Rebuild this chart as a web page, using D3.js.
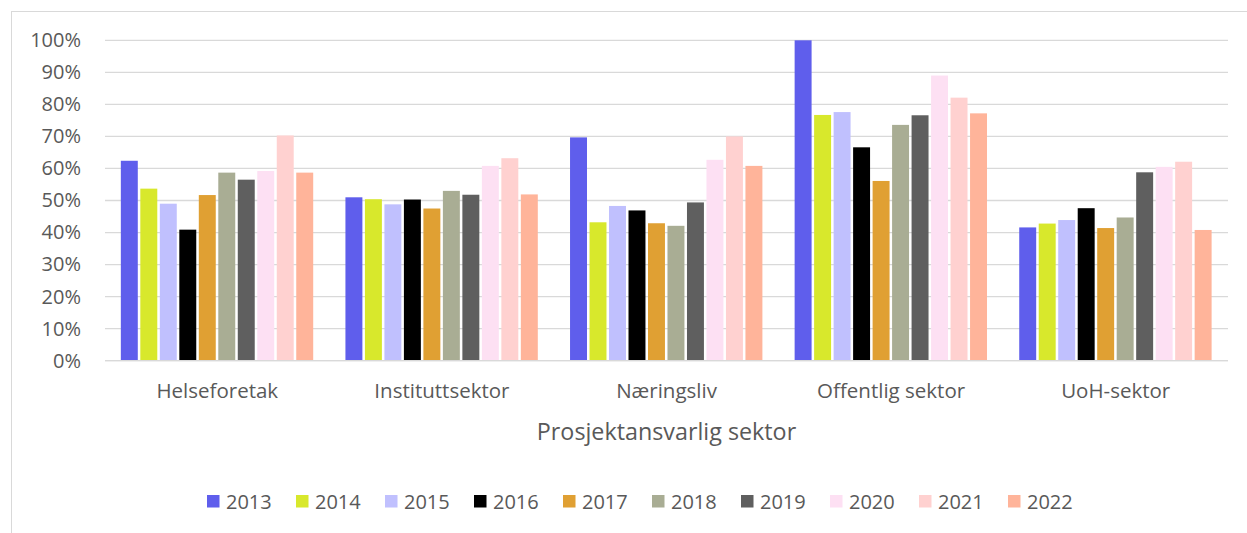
<!DOCTYPE html>
<html>
<head>
<meta charset="utf-8">
<script src="https://cdn.jsdelivr.net/npm/d3@7"></script>
<style>
  html, body { margin: 0; padding: 0; background: #fff; }
  svg { display: block; font-family: "Open Sans", sans-serif; }
</style>
</head>
<body>
<svg id="chart" width="1247" height="533"></svg>
<script>
const categories = ["Helseforetak", "Instituttsektor", "Næringsliv", "Offentlig sektor", "UoH-sektor"];
const years = ["2013", "2014", "2015", "2016", "2017", "2018", "2019", "2020", "2021", "2022"];
const colors = ["#5f5eec", "#d8e82c", "#c0c0fe", "#000000", "#e0a033", "#a9ad94", "#5f5f5f", "#fde0f3", "#ffd1d0", "#ffb49a"];
const v2013 = [0.624, 0.510, 0.697, 1.000, 0.416];
const v2014 = [0.537, 0.504, 0.432, 0.767, 0.428];
const v2015 = [0.490, 0.488, 0.483, 0.776, 0.439];
const v2016 = [0.409, 0.503, 0.469, 0.666, 0.476];
const v2017 = [0.517, 0.475, 0.429, 0.561, 0.414];
const v2018 = [0.587, 0.530, 0.421, 0.736, 0.447];
const v2019 = [0.565, 0.518, 0.494, 0.766, 0.588];
const v2020 = [0.592, 0.608, 0.627, 0.890, 0.605];
const v2021 = [0.703, 0.632, 0.700, 0.821, 0.621];
const v2022 = [0.587, 0.519, 0.608, 0.772, 0.408];
const series = [v2013, v2014, v2015, v2016, v2017, v2018, v2019, v2020, v2021, v2022];
const yTicks = [0, 0.1, 0.2, 0.3, 0.4, 0.5, 0.6, 0.7, 0.8, 0.9, 1.0];

const svg = d3.select("#chart");
const plotLeft = 105, plotRight = 1228, plotTop = 40.3, plotBottom = 360.7;
const textColor = "#595959";
const gridColor = "#d9d9d9";

// outer frame
svg.append("rect").attr("x", 11.5).attr("y", 11.5).attr("width", 1260).attr("height", 560)
  .attr("fill", "none").attr("stroke", gridColor).attr("stroke-width", 1);

const y = d3.scaleLinear().domain([0, 1]).range([plotBottom, plotTop]);
const x0 = d3.scaleBand().domain(categories).range([plotLeft, plotRight]).padding(0);
const bw = x0.bandwidth();
const x1 = d3.scaleBand().domain(years).range([bw * 0.0705, bw * 0.927]).paddingInner(0.13).paddingOuter(0);

// gridlines
svg.append("g").selectAll("line").data(yTicks).join("line")
  .attr("x1", plotLeft).attr("x2", plotRight)
  .attr("y1", d => y(d)).attr("y2", d => y(d))
  .attr("stroke", gridColor).attr("stroke-width", 1.3);

// y axis labels
const yAxis = d3.axisLeft(y).tickValues(yTicks).tickFormat(d3.format(".0%")).tickSize(0).tickPadding(0);
const ya = svg.append("g").attr("transform", "translate(81,0)").call(yAxis);
ya.select(".domain").remove();
ya.selectAll("text").attr("fill", textColor).style("font-size", "20px").style("font-family", "'Open Sans', sans-serif");

// bars
const groups = svg.append("g").selectAll("g").data(categories).join("g")
  .attr("transform", c => `translate(${x0(c)},0)`);
groups.selectAll("rect").data((c, ci) => years.map((yr, si) => ({ yr, si, v: series[si][ci] })))
  .join("rect")
  .attr("x", d => x1(d.yr))
  .attr("width", x1.bandwidth())
  .attr("y", d => y(d.v))
  .attr("height", d => y(0) - y(d.v))
  .attr("fill", d => colors[d.si]);

// x axis line
svg.append("line").attr("x1", plotLeft).attr("x2", plotRight).attr("y1", plotBottom).attr("y2", plotBottom)
  .attr("stroke", gridColor).attr("stroke-width", 1.3);

// category labels
const xAxis = d3.axisBottom(x0).tickSize(0).tickPadding(0);
const xa = svg.append("g").attr("transform", `translate(0,${plotBottom})`).call(xAxis);
xa.select(".domain").remove();
xa.selectAll("text").attr("fill", textColor).attr("dy", null).attr("y", 37)
  .style("font-size", "20.5px").style("font-family", "'Open Sans', sans-serif");

// axis title
svg.append("text").attr("x", (plotLeft + plotRight) / 2).attr("y", 440).attr("text-anchor", "middle")
  .attr("fill", textColor).style("font-size", "23.3px").text("Prosjektansvarlig sektor");

// legend
const lg = svg.append("g").selectAll("g").data(years).join("g")
  .attr("transform", (d, i) => `translate(${207 + i * 89},0)`);
lg.append("rect").attr("x", 0).attr("y", 495).attr("width", 12.5).attr("height", 12.5)
  .attr("fill", (d, i) => colors[i]);
lg.append("text").attr("x", 19).attr("y", 508.5).attr("fill", textColor)
  .style("font-size", "20px").text(d => d);
</script>
</body>
</html>
